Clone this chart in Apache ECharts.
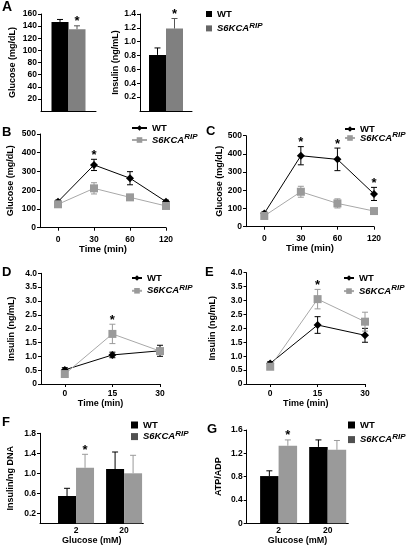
<!DOCTYPE html>
<html><head><meta charset="utf-8">
<script src="https://cdn.jsdelivr.net/npm/echarts@6/dist/echarts.min.js"></script>
<style>html,body{margin:0;padding:0;background:#fff}#c{width:409px;height:549px}</style>
</head><body><div id="c"></div>
<script>
const FONT = 'Liberation Sans, Arial, Helvetica, sans-serif';

// ---------- Panel A (fasting) ----------
const aGlucose = [147, 135];       // WT, S6KCA
const aGlucoseErr = [4, 5.5];
const aInsulin = [0.81, 1.19];
const aInsulinErr = [0.10, 0.145];

// ---------- Panel B (glucose tolerance) ----------
const bTimeLabels = ['0', '30', '60', '120'];
const bWT = [139, 335, 264, 139];
const bWTErr = [8, 30, 35, 8];
const bS6 = [125, 210, 162, 116];
const bS6Err = [12, 30, 12, 10];

// ---------- Panel C ----------
const cTimeLabels = ['0', '30', '60', '120'];
const cWT = [73, 390, 370, 180];
const cWTErr = [8, 50, 62, 36];
const cS6 = [59, 192, 128, 86];
const cS6Err = [8, 30, 25, 8];

// ---------- Panel D (insulin) ----------
const dTimeLabels = ['0', '15', '30'];
const dWT = [0.51, 1.05, 1.20];
const dWTErr = [0.08, 0.10, 0.20];
const dS6 = [0.36, 1.81, 1.19];
const dS6Err = [0.08, 0.35, 0.10];

// ---------- Panel E ----------
const eTimeLabels = ['0', '15', '30'];
const eWT = [0.74, 2.12, 1.75];
const eWTErr = [0.06, 0.30, 0.25];
const eS6 = [0.62, 3.05, 2.24];
const eS6Err = [0.08, 0.35, 0.34];

// y ticks for insulin time courses
const insulinTicks = [0, 0.5, 1.0, 1.5, 2.0, 2.5, 3.0, 3.5, 4.0];

// ---------- Panel F (insulin secretion) ----------
const fGlucoseLabels = ['2', '20'];
const fYTicks = [0.2, 0.6, 1.0, 1.4, 1.8];
const fWT = [0.546, 1.086];
const fWTErr = [0.154, 0.34];
const fS6 = [1.11, 1.0];
const fS6Err = [0.27, 0.36];

// ---------- Panel G (ATP/ADP) ----------
const gGlucoseLabels = ['2', '20'];
const gYTicks = [0, 0.4, 0.8, 1.2, 1.6];
const gWT = [0.81, 1.31];
const gWTErr = [0.09, 0.12];
const gS6 = [1.33, 1.26];
const gS6Err = [0.10, 0.16];

// significance stars: [group, index]
const starsAG = [['S6', 0]];
const starsAI = [['S6', 0]];
const starsB = [['WT', 1]];
const starsC = [['WT', 1], ['WT', 2], ['WT', 3]];
const starsD = [['S6', 1]];
const starsE = [['S6', 1]];
const starsF = [['S6', 0]];
const starsG = [['S6', 0]];

// ---------- styling helpers ----------
const BLACK = '#000';
const GRAY_A = '#808080', GRAY_A_LEG = '#666666';
const GRAY_FG = '#9a9a9a', GRAY_FG_LEG = '#505050';
const GRAY_LINE = '#9a9a9a';
const axisLine = {show: true, onZero: false, lineStyle: {color: BLACK, width: 1}};
const tickStyle = {color: BLACK, width: 1};
const lbl = {color: BLACK, fontWeight: 'bold', fontSize: 8.5, fontFamily: FONT, hideOverlap: false};
const nameStyle = {color: BLACK, fontWeight: 'bold', fontSize: 9, fontFamily: FONT};

const grids = [
  {left: 41, top: 14, width: 55, height: 97},      // A glucose
  {left: 140, top: 14, width: 52, height: 97},     // A insulin
  {left: 40, top: 134, width: 126, height: 93.7},  // B
  {left: 246, top: 135.7, width: 128, height: 91}, // C
  {left: 41, top: 273.3, width: 119, height: 110.7}, // D
  {left: 246.5, top: 272.7, width: 118.5, height: 111.3}, // E
  {left: 40, top: 433.3, width: 103.3, height: 90}, // F
  {left: 246.7, top: 430, width: 101.6, height: 93.3} // G
];

function fmt1(v) { return Math.abs(v) < 1e-9 ? '0' : v.toFixed(1); }

function yAx(gi, min, max, interval, formatter, name, nameGap, custom, showMin) {
  const o = {
    type: 'value', gridIndex: gi, min, max, interval,
    splitLine: {show: false}, axisLine,
    axisTick: {show: true, length: 3, lineStyle: tickStyle},
    axisLabel: Object.assign({formatter, margin: 4}, lbl),
    name, nameLocation: 'middle', nameGap, nameTextStyle: nameStyle
  };
  if (custom) {
    o.axisTick.customValues = custom;
    o.axisLabel.customValues = custom;
  }
  if (showMin === false) o.axisLabel.showMinLabel = false;
  return o;
}
function catX(gi) {
  return {type: 'category', gridIndex: gi, data: [''], axisLine,
    axisTick: {show: false}, axisLabel: {show: false}};
}
function valX(gi, min, max, labels, name, nameGap, margin, showTicks, nameFont) {
  const vals = labels.map((_, i) => i);
  return {
    type: 'value', gridIndex: gi, min, max,
    splitLine: {show: false}, axisLine,
    axisTick: {show: showTicks, customValues: vals, length: 3, lineStyle: tickStyle},
    axisLabel: Object.assign({customValues: vals, margin,
      formatter: v => labels[Math.round(v)] !== undefined ? labels[Math.round(v)] : ''}, lbl),
    name, nameLocation: 'middle', nameGap,
    nameTextStyle: Object.assign({}, nameStyle, nameFont ? {fontSize: nameFont} : {})
  };
}

function errBars(gi, xs, vals, errs, color, dx, both, capW, z) {
  return {
    type: 'custom', xAxisIndex: gi, yAxisIndex: gi, silent: true, z: z || 3,
    data: vals.map((v, i) => [xs[i], v, errs[i]]),
    renderItem: (p, api) => {
      const x = api.value(0), v = api.value(1), e = api.value(2);
      const top = api.coord([x, v + e]);
      const bot = api.coord([x, both ? v - e : v]);
      const cx = top[0] + dx;
      const st = {stroke: color, lineWidth: 1};
      const ch = [
        {type: 'line', shape: {x1: cx, y1: top[1], x2: cx, y2: bot[1]}, style: st},
        {type: 'line', shape: {x1: cx - capW / 2, y1: top[1], x2: cx + capW / 2, y2: top[1]}, style: st}
      ];
      if (both) ch.push({type: 'line', shape: {x1: cx - capW / 2, y1: bot[1], x2: cx + capW / 2, y2: bot[1]}, style: st});
      return {type: 'group', children: ch};
    }
  };
}

function starSeries(gi, stars, sets, dxMap, xsFn) {
  const data = stars.map(([g, i]) => [xsFn(i), sets[g][0][i] + sets[g][1][i], g === 'WT' ? 0 : 1]);
  return {
    type: 'custom', xAxisIndex: gi, yAxisIndex: gi, silent: true, z: 10,
    data,
    renderItem: (p, api) => {
      const c = api.coord([api.value(0), api.value(1)]);
      const dx = dxMap[api.value(2)];
      return {type: 'text', x: c[0] + dx, y: c[1] - 4,
        style: {text: '*', font: 'bold 13px ' + FONT, fill: BLACK, align: 'center', verticalAlign: 'middle'}};
    }
  };
}

function lineS(gi, name, vals, color, lineColor, symbol, size) {
  return {type: 'line', name, xAxisIndex: gi, yAxisIndex: gi,
    data: vals.map((v, i) => [i, v]), symbol, symbolSize: size,
    itemStyle: {color}, lineStyle: {color: lineColor, width: 1}, clip: false,
    emphasis: {disabled: true}, z: 4};
}

function barS(gi, name, data, color, width) {
  return {type: 'bar', name, xAxisIndex: gi, yAxisIndex: gi, data, barWidth: width,
    barGap: '0%', itemStyle: {color}, emphasis: {disabled: true}, z: 2};
}

const rich = {
  b: {fontWeight: 'bold', fontSize: 9.5, fontFamily: FONT, color: BLACK, lineHeight: 10, verticalAlign: 'bottom'},
  i: {fontWeight: 'bold', fontStyle: 'italic', fontSize: 9.5, fontFamily: FONT, color: BLACK, lineHeight: 10, verticalAlign: 'bottom'},
  s: {fontWeight: 'bold', fontStyle: 'italic', fontSize: 8, fontFamily: FONT, color: BLACK, lineHeight: 10, padding: [0, 0, 4, 0], verticalAlign: 'bottom'}
};
function legendFor(prefix, left, top, kind, gap, iw, legGray) {
  const d2 = {name: prefix + 'S6'};
  if (legGray) d2.itemStyle = {color: legGray};
  return {
    left, top, orient: 'vertical', padding: 0, itemGap: gap,
    itemWidth: iw, itemHeight: kind === 'line' ? 7 : iw,
    icon: kind === 'line' ? undefined : 'rect',
    selectedMode: false,
    data: [{name: prefix + 'WT'}, d2],
    formatter: n => n.endsWith('WT') ? '{b|WT}' : '{i|S6KCA}{s|RIP}',
    textStyle: {rich}
  };
}

const xs01 = [0, 1];
const series = [];

// A glucose
series.push(barS(0, 'AG-WT', [aGlucose[0]], BLACK, 17));
series.push(barS(0, 'AG-S6', [aGlucose[1]], GRAY_A, 17));
series.push(errBars(0, [0], [aGlucose[0]], [aGlucoseErr[0]], BLACK, -8.5, false, 6));
series.push(errBars(0, [0], [aGlucose[1]], [aGlucoseErr[1]], '#555', 8.5, false, 6));
series.push(starSeries(0, starsAG, {WT: [aGlucose.slice(0, 1), aGlucoseErr.slice(0, 1)], S6: [aGlucose.slice(1), aGlucoseErr.slice(1)]}, [-8.5, 8.5], i => 0));
// A insulin
series.push(barS(1, 'AI-WT', [aInsulin[0]], BLACK, 17));
series.push(barS(1, 'AI-S6', [aInsulin[1]], GRAY_A, 17));
series.push(errBars(1, [0], [aInsulin[0]], [aInsulinErr[0]], BLACK, -8.5, false, 6));
series.push(errBars(1, [0], [aInsulin[1]], [aInsulinErr[1]], '#555', 8.5, false, 6));
series.push(starSeries(1, starsAI, {WT: [aInsulin.slice(0, 1), aInsulinErr.slice(0, 1)], S6: [aInsulin.slice(1), aInsulinErr.slice(1)]}, [-8.5, 8.5], i => 0));

// line panels B-E
function linePanel(gi, prefix, wt, wtE, s6, s6E, stars) {
  const idx = wt.map((_, i) => i);
  series.push(errBars(gi, idx, wt, wtE, BLACK, 0, true, 6, 3));
  series.push(lineS(gi, prefix + 'WT', wt, BLACK, BLACK, 'diamond', 8));
  series.push(errBars(gi, idx, s6, s6E, GRAY_LINE, 0, true, 6, 5));
  series.push(Object.assign(lineS(gi, prefix + 'S6', s6, GRAY_LINE, '#a8a8a8', 'rect', 8), {z: 6}));
  series.push(starSeries(gi, stars, {WT: [wt, wtE], S6: [s6, s6E]}, [0, 0], i => i));
}
linePanel(2, 'B-', bWT, bWTErr, bS6, bS6Err, starsB);
linePanel(3, 'C-', cWT, cWTErr, cS6, cS6Err, starsC);
linePanel(4, 'D-', dWT, dWTErr, dS6, dS6Err, starsD);
linePanel(5, 'E-', eWT, eWTErr, eS6, eS6Err, starsE);

// bar panels F, G
function barPanel(gi, prefix, wt, wtE, s6, s6E, stars, bw) {
  series.push(barS(gi, prefix + 'WT', wt.map((v, i) => [i, v]), BLACK, bw));
  series.push(barS(gi, prefix + 'S6', s6.map((v, i) => [i, v]), GRAY_FG, bw));
  series.push(errBars(gi, xs01, wt, wtE, BLACK, -bw / 2, false, 6));
  series.push(errBars(gi, xs01, s6, s6E, GRAY_FG, bw / 2, false, 6));
  series.push(starSeries(gi, stars, {WT: [wt, wtE], S6: [s6, s6E]}, [-bw / 2, bw / 2], i => i));
}
barPanel(6, 'F-', fWT, fWTErr, fS6, fS6Err, starsF, 18);
barPanel(7, 'G-', gWT, gWTErr, gS6, gS6Err, starsG, 18.5);

const option = {
  animation: false,
  textStyle: {fontFamily: FONT},
  grid: grids,
  xAxis: [
    catX(0), catX(1),
    valX(2, -0.5, 3, bTimeLabels, 'Time (min)', 16, 7, true, 9.5),
    valX(3, -0.5, 3, cTimeLabels, 'Time (min)', 16, 7, true, 9.5),
    valX(4, -0.5, 2, dTimeLabels, 'Time (min)', 14, 5, true, 9),
    valX(5, -0.5, 2, eTimeLabels, 'Time (min)', 14, 5, true, 9),
    valX(6, -0.75, 1.4, fGlucoseLabels, 'Glucose (mM)', 13, 3, false, 9),
    valX(7, -0.65, 1.42, gGlucoseLabels, 'Glucose (mM)', 13, 3, false, 9)
  ],
  yAxis: [
    yAx(0, 0, 160, 20, v => String(v), 'Glucose (mg/dL)', 24, null, false),
    yAx(1, 0, 1.4, 0.2, fmt1, 'Insulin (ng/mL)', 17, null, false),
    yAx(2, 0, 500, 100, v => String(v), 'Glucose (mg/dL)', 25),
    yAx(3, 0, 500, 100, v => String(v), 'Glucose (mg/dL)', 22),
    yAx(4, 0, 4, 0.5, fmt1, 'Insulin (ng/mL)', 25, insulinTicks),
    yAx(5, 0, 4, 0.5, fmt1, 'Insulin (ng/mL)', 29, insulinTicks),
    yAx(6, 0, 1.8, 0.2, fmt1, 'Insulin/ng DNA', 25, fYTicks),
    yAx(7, 0, 1.6, 0.4, fmt1, 'ATP/ADP', 24, gYTicks)
  ],
  legend: [
    legendFor('AG-', 206, 9, 'bar', 2.4, 6, GRAY_A_LEG),
    legendFor('B-', 131, 123, 'line', 0, 15),
    legendFor('C-', 344, 124, 'line', -3, 10),
    legendFor('D-', 131, 273, 'line', 0.8, 10),
    legendFor('E-', 343, 273, 'line', 1.1, 10),
    legendFor('F-', 131, 420, 'bar', -0.4, 7, GRAY_FG_LEG),
    legendFor('G-', 348, 420, 'bar', 2.6, 7, GRAY_FG_LEG)
  ],
  graphic: [
    {type: 'text', left: 2, top: 0, style: {text: 'A', font: 'bold 14px ' + FONT, fill: BLACK}},
    {type: 'text', left: 2, top: 126, style: {text: 'B', font: 'bold 13px ' + FONT, fill: BLACK}},
    {type: 'text', left: 206, top: 125, style: {text: 'C', font: 'bold 13px ' + FONT, fill: BLACK}},
    {type: 'text', left: 2, top: 266, style: {text: 'D', font: 'bold 13px ' + FONT, fill: BLACK}},
    {type: 'text', left: 205, top: 266, style: {text: 'E', font: 'bold 13px ' + FONT, fill: BLACK}},
    {type: 'text', left: 2, top: 416, style: {text: 'F', font: 'bold 13px ' + FONT, fill: BLACK}},
    {type: 'text', left: 207, top: 423, style: {text: 'G', font: 'bold 13px ' + FONT, fill: BLACK}}
  ],
  series
};
const chart = echarts.init(document.getElementById('c'), null, {renderer: 'canvas'});
chart.setOption(option);
</script>
</body></html>
